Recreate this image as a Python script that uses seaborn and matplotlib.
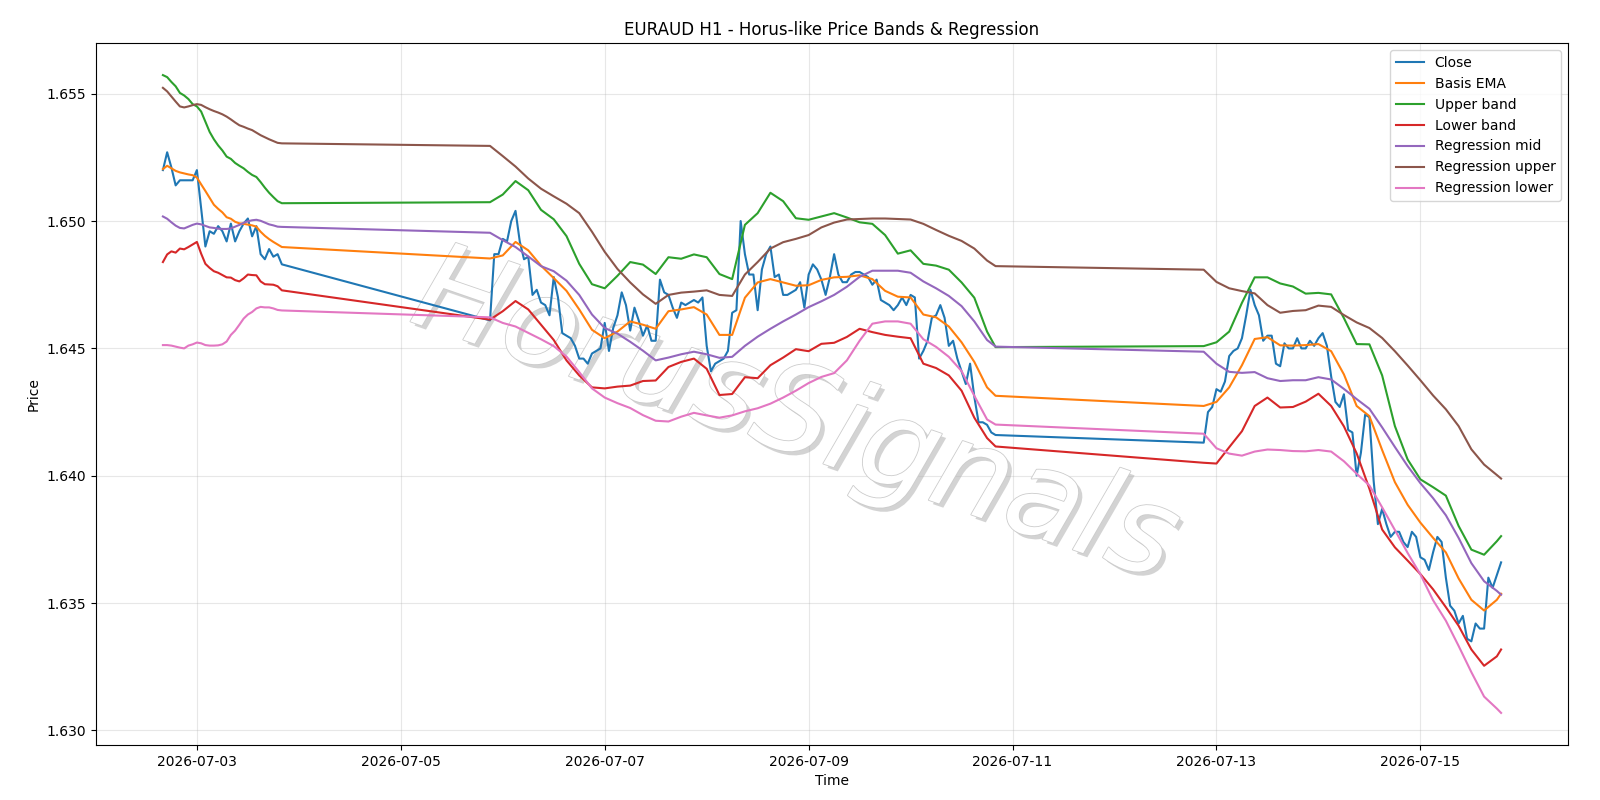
import numpy as np
import pandas as pd
import matplotlib
matplotlib.use("Agg")
import matplotlib.pyplot as plt
import matplotlib.patheffects as pe
import seaborn as sns

base_time = pd.Timestamp("2026-07-03 00:00")

# hour offsets (from 2026-07-03 00:00) of the hourly bars, three trading sessions
close_hours = list(range(-8, 21)) + list(range(69, 189)) + list(range(237, 308))
band_hours = (list(range(-8, 21)) + list(range(69, 187, 3)) + [188]
              + list(range(237, 307, 3)) + [307])

close = [
    1.6520, 1.6527, 1.6521, 1.6514, 1.6516, 1.6516, 1.6516, 1.6516, 1.6520, 1.6505,
    1.6490, 1.6496, 1.6495, 1.6498, 1.6496, 1.6492, 1.6499, 1.6492, 1.6496, 1.6499,
    1.6501, 1.6494, 1.6498, 1.6487, 1.6485, 1.6489, 1.6486, 1.6487, 1.6483,
    # 07-05 21:00 -> 07-10 20:00
    1.6461, 1.6487, 1.6487, 1.6493, 1.6492, 1.6500, 1.6504, 1.6492, 1.6485, 1.6486,
    1.6471, 1.6473, 1.6468, 1.6467, 1.6463, 1.6478, 1.6470, 1.6456, 1.6455, 1.6454,
    1.6451, 1.6446, 1.6446, 1.6444, 1.6448, 1.6449, 1.6450, 1.6460, 1.6449, 1.6458,
    1.6463, 1.6472, 1.6467, 1.6457, 1.6466, 1.6461, 1.6455, 1.6459, 1.6453, 1.6453,
    1.6477, 1.6472, 1.6471, 1.6466, 1.6462, 1.6468, 1.6467, 1.6468, 1.6469, 1.6468,
    1.6470, 1.6451, 1.6441, 1.6444, 1.6445, 1.6446, 1.6449, 1.6464, 1.6465, 1.6500,
    1.6487, 1.6479, 1.6479, 1.6465, 1.6481, 1.6487, 1.6490, 1.6478, 1.6479, 1.6471,
    1.6471, 1.6472, 1.6473, 1.6476, 1.6466, 1.6479, 1.6483, 1.6481, 1.6477, 1.6471,
    1.6478, 1.6487, 1.6479, 1.6476, 1.6476, 1.6479, 1.6480, 1.6480, 1.6479, 1.6478,
    1.6475, 1.6477, 1.6469, 1.6468, 1.6467, 1.6465, 1.6467, 1.6470, 1.6467, 1.6471,
    1.6470, 1.6446, 1.6449, 1.6453, 1.6462, 1.6463, 1.6467, 1.6462, 1.6451, 1.6453,
    1.6446, 1.6441, 1.6436, 1.6444, 1.6431, 1.6421, 1.6421, 1.6420, 1.6417, 1.6416,
    # 07-12 21:00 -> 07-15 19:00
    1.6413, 1.6425, 1.6427, 1.6434, 1.6433, 1.6437, 1.6447, 1.6449, 1.6450, 1.6454,
    1.6463, 1.6473, 1.6467, 1.6463, 1.6453, 1.6455, 1.6455, 1.6444, 1.6443, 1.6452,
    1.6450, 1.6450, 1.6454, 1.6450, 1.6450, 1.6453, 1.6451, 1.6454, 1.6456, 1.6451,
    1.6439, 1.6429, 1.6427, 1.6432, 1.6418, 1.6417, 1.6400, 1.6409, 1.6424, 1.6423,
    1.6398, 1.6381, 1.6387, 1.6381, 1.6376, 1.6378, 1.6378, 1.6374, 1.6372, 1.6378,
    1.6376, 1.6368, 1.6367, 1.6363, 1.6370, 1.6376, 1.6374, 1.6360, 1.6349, 1.6347,
    1.6342, 1.6345, 1.6336, 1.6335, 1.6342, 1.6340, 1.6340, 1.6360, 1.6356, 1.6361,
    1.6366,
]

basis_ema = [
    1.65204, 1.65217, 1.65207, 1.65197, 1.65191, 1.65187, 1.65183, 1.65180, 1.65171, 1.65144,
    1.65118, 1.65091, 1.65064, 1.65048, 1.65034, 1.65015, 1.65009, 1.64997, 1.64991, 1.64989,
    1.64986, 1.64983, 1.64978, 1.64958, 1.64942, 1.64929, 1.64918, 1.64908, 1.64898,
    1.64853, 1.64865, 1.64918, 1.64885, 1.64825, 1.64776, 1.64726, 1.64653, 1.64573, 1.64540,
    1.64566, 1.64606, 1.64593, 1.64577, 1.64646, 1.64653, 1.64662, 1.64633, 1.64553, 1.64553,
    1.64699, 1.64759, 1.64772, 1.64759, 1.64746, 1.64748, 1.64769, 1.64779, 1.64781, 1.64787,
    1.64772, 1.64726, 1.64703, 1.64700, 1.64633, 1.64622, 1.64586, 1.64524, 1.64447, 1.64347,
    1.64314,
    1.64274, 1.64290, 1.64347, 1.64434, 1.64537, 1.64544, 1.64512, 1.64511, 1.64513, 1.64517,
    1.64489, 1.64398, 1.64274, 1.64234, 1.64101, 1.63975, 1.63886, 1.63816, 1.63756, 1.63699,
    1.63597, 1.63513, 1.63471, 1.63513, 1.63537,
]

upper_band = [
    1.65573, 1.65565, 1.65546, 1.65529, 1.65503, 1.65493, 1.65479, 1.65459, 1.65450, 1.65430,
    1.65390, 1.65350, 1.65321, 1.65297, 1.65277, 1.65253, 1.65244, 1.65228, 1.65217, 1.65207,
    1.65193, 1.65181, 1.65173, 1.65153, 1.65131, 1.65111, 1.65094, 1.65078, 1.65070,
    1.65074, 1.65104, 1.65157, 1.65121, 1.65044, 1.65007, 1.64941, 1.64832, 1.64752, 1.64736,
    1.64785, 1.64839, 1.64829, 1.64792, 1.64858, 1.64852, 1.64869, 1.64858, 1.64792, 1.64772,
    1.64985, 1.65031, 1.65111, 1.65078, 1.65011, 1.65005, 1.65018, 1.65031, 1.65014, 1.64995,
    1.64989, 1.64945, 1.64872, 1.64885, 1.64832, 1.64825, 1.64809, 1.64759, 1.64699, 1.64566,
    1.64505,
    1.64509, 1.64524, 1.64566, 1.64679, 1.64779, 1.64779, 1.64755, 1.64743, 1.64715, 1.64718,
    1.64712, 1.64619, 1.64517, 1.64516, 1.64394, 1.64195, 1.64064, 1.63986, 1.63955, 1.63922,
    1.63803, 1.63710, 1.63690, 1.63743, 1.63763,
]

lower_band = [
    1.64839, 1.64869, 1.64881, 1.64876, 1.64892, 1.64889, 1.64898, 1.64908, 1.64918, 1.64872,
    1.64832, 1.64816, 1.64803, 1.64797, 1.64788, 1.64779, 1.64778, 1.64768, 1.64763, 1.64775,
    1.64790, 1.64788, 1.64787, 1.64763, 1.64752, 1.64751, 1.64750, 1.64744, 1.64728,
    1.64613, 1.64646, 1.64686, 1.64653, 1.64593, 1.64533, 1.64453, 1.64394, 1.64347, 1.64343,
    1.64350, 1.64354, 1.64372, 1.64374, 1.64427, 1.64447, 1.64460, 1.64420, 1.64317, 1.64321,
    1.64387, 1.64383, 1.64434, 1.64464, 1.64497, 1.64489, 1.64518, 1.64522, 1.64545, 1.64577,
    1.64564, 1.64553, 1.64546, 1.64540, 1.64440, 1.64423, 1.64394, 1.64334, 1.64228, 1.64148,
    1.64115,
    1.64051, 1.64048, 1.64112, 1.64175, 1.64274, 1.64307, 1.64268, 1.64270, 1.64291, 1.64322,
    1.64274, 1.64194, 1.64088, 1.63949, 1.63789, 1.63719, 1.63667, 1.63614, 1.63554, 1.63484,
    1.63411, 1.63318, 1.63254, 1.63291, 1.63318,
]

regression_mid = [
    1.65018, 1.65009, 1.64995, 1.64982, 1.64973, 1.64971, 1.64978, 1.64985, 1.64990, 1.64987,
    1.64981, 1.64975, 1.64973, 1.64970, 1.64969, 1.64969, 1.64971, 1.64978, 1.64985, 1.64993,
    1.64999, 1.65003, 1.65005, 1.65001, 1.64994, 1.64987, 1.64983, 1.64978, 1.64977,
    1.64954, 1.64925, 1.64898, 1.64861, 1.64823, 1.64803, 1.64766, 1.64710, 1.64633, 1.64580,
    1.64558, 1.64526, 1.64491, 1.64453, 1.64464, 1.64477, 1.64487, 1.64477, 1.64463, 1.64467,
    1.64510, 1.64546, 1.64577, 1.64606, 1.64633, 1.64662, 1.64685, 1.64710, 1.64742, 1.64781,
    1.64805, 1.64805, 1.64805, 1.64797, 1.64763, 1.64736, 1.64706, 1.64666, 1.64606, 1.64533,
    1.64507,
    1.64487, 1.64440, 1.64408, 1.64404, 1.64407, 1.64383, 1.64372, 1.64375, 1.64375, 1.64387,
    1.64378, 1.64341, 1.64301, 1.64263, 1.64190, 1.64113, 1.64038, 1.63971, 1.63912, 1.63845,
    1.63756, 1.63657, 1.63586, 1.63548, 1.63533,
]

regression_upper = [
    1.65523, 1.65509, 1.65489, 1.65469, 1.65450, 1.65446, 1.65450, 1.65455, 1.65459, 1.65456,
    1.65447, 1.65439, 1.65432, 1.65426, 1.65419, 1.65410, 1.65399, 1.65387, 1.65376, 1.65370,
    1.65363, 1.65357, 1.65347, 1.65337, 1.65329, 1.65321, 1.65314, 1.65307, 1.65305,
    1.65295, 1.65255, 1.65214, 1.65167, 1.65127, 1.65097, 1.65068, 1.65031, 1.64958, 1.64879,
    1.64812, 1.64759, 1.64712, 1.64675, 1.64710, 1.64719, 1.64723, 1.64728, 1.64710, 1.64706,
    1.64790, 1.64839, 1.64892, 1.64917, 1.64930, 1.64945, 1.64975, 1.64994, 1.65006, 1.65008,
    1.65010, 1.65010, 1.65008, 1.65006, 1.64989, 1.64965, 1.64942, 1.64922, 1.64892, 1.64845,
    1.64823,
    1.64809, 1.64761, 1.64736, 1.64725, 1.64716, 1.64670, 1.64640, 1.64647, 1.64650, 1.64668,
    1.64663, 1.64631, 1.64602, 1.64580, 1.64541, 1.64489, 1.64433, 1.64375, 1.64315, 1.64261,
    1.64195, 1.64104, 1.64044, 1.64003, 1.63989,
]

regression_lower = [
    1.64513, 1.64513, 1.64511, 1.64507, 1.64503, 1.64500, 1.64511, 1.64516, 1.64523, 1.64520,
    1.64513, 1.64511, 1.64511, 1.64512, 1.64516, 1.64527, 1.64553, 1.64570, 1.64593, 1.64617,
    1.64633, 1.64643, 1.64657, 1.64663, 1.64661, 1.64661, 1.64657, 1.64651, 1.64649,
    1.64622, 1.64600, 1.64586, 1.64561, 1.64536, 1.64509, 1.64468, 1.64407, 1.64343, 1.64307,
    1.64285, 1.64266, 1.64238, 1.64216, 1.64213, 1.64232, 1.64247, 1.64237, 1.64228, 1.64237,
    1.64253, 1.64265, 1.64283, 1.64307, 1.64334, 1.64364, 1.64388, 1.64403, 1.64453, 1.64530,
    1.64597, 1.64606, 1.64606, 1.64597, 1.64536, 1.64506, 1.64467, 1.64411, 1.64314, 1.64221,
    1.64201,
    1.64165, 1.64108, 1.64087, 1.64079, 1.64095, 1.64103, 1.64101, 1.64097, 1.64096, 1.64101,
    1.64095, 1.64057, 1.64008, 1.63962, 1.63876, 1.63787, 1.63697, 1.63613, 1.63511, 1.63431,
    1.63332, 1.63229, 1.63133, 1.63086, 1.63069,
]

title = "EURAUD H1 - Horus-like Price Bands & Regression"
watermark = "HorusSignals"

close_times = base_time + pd.to_timedelta(close_hours, unit="h")
band_times = base_time + pd.to_timedelta(band_hours, unit="h")

palette = sns.color_palette("tab10")

fig, ax = plt.subplots(figsize=(16, 8), dpi=100)
fig.subplots_adjust(left=0.060, right=0.980, top=0.946, bottom=0.069)

sns.lineplot(x=close_times, y=close, ax=ax, color=palette[0], label="Close",
             linewidth=1.5, sort=False)
series = [
    ("Basis EMA", basis_ema, palette[1]),
    ("Upper band", upper_band, palette[2]),
    ("Lower band", lower_band, palette[3]),
    ("Regression mid", regression_mid, palette[4]),
    ("Regression upper", regression_upper, palette[5]),
    ("Regression lower", regression_lower, palette[6]),
]
for name, vals, col in series:
    sns.lineplot(x=band_times, y=vals, ax=ax, color=col, label=name,
                 linewidth=1.5, sort=False)

ax.grid(True, alpha=0.3)
ax.set_title(title)
ax.set_xlabel("Time")
ax.set_ylabel("Price")
ax.legend(loc="upper right")

ax.text(0.475, 0.465, watermark, transform=ax.transAxes, fontsize=88,
        rotation=-19, style="italic", color="white", ha="center", va="center",
        zorder=1.8,
        path_effects=[pe.withSimplePatchShadow(offset=(3, -3), shadow_rgbFace="#b0b0b0", alpha=0.55),
                      pe.withStroke(linewidth=1.2, foreground="#cccccc")])

fig.savefig("out.png", dpi=100)
